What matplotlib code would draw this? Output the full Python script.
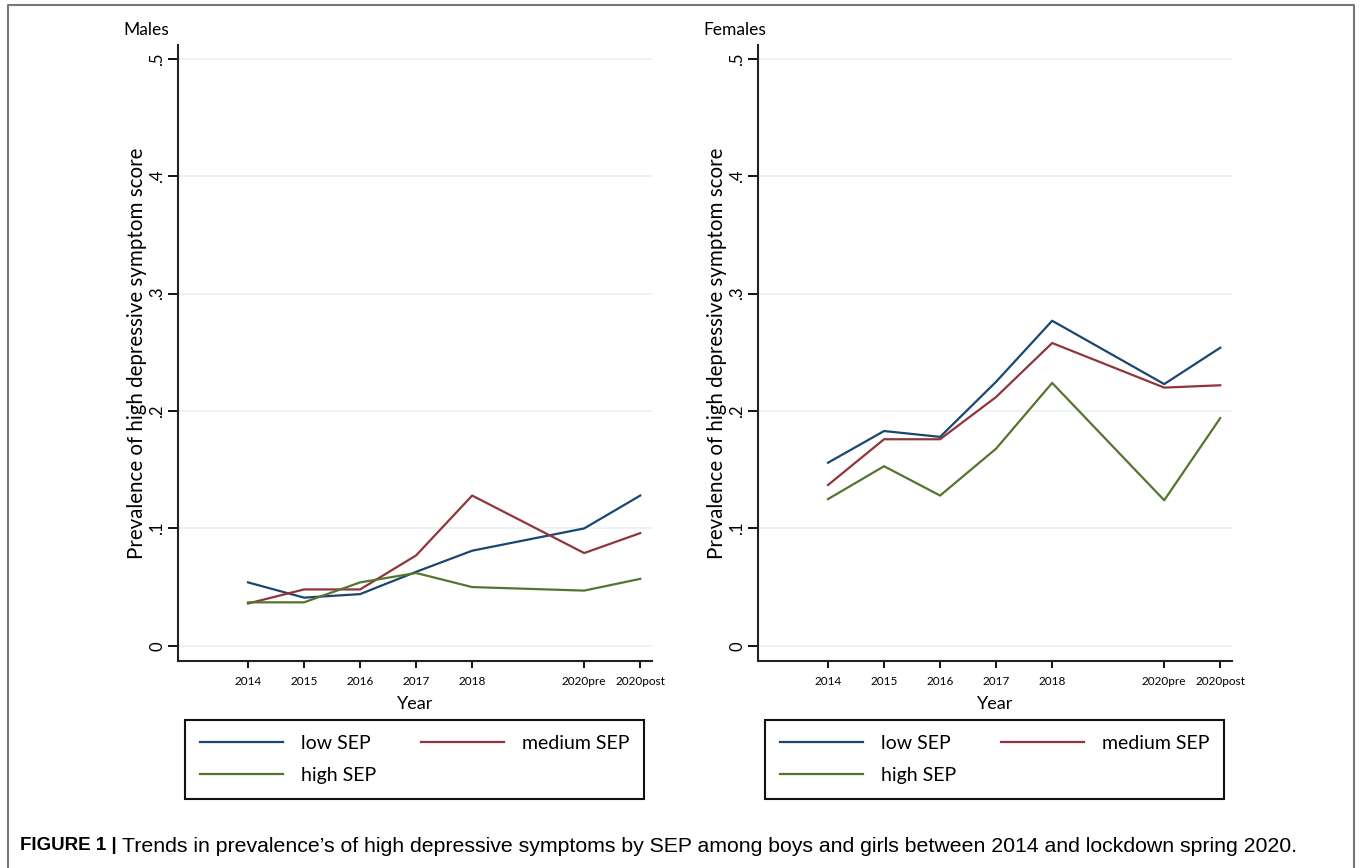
import numpy as np
import matplotlib
matplotlib.use('Agg')
import matplotlib.pyplot as plt
from matplotlib.lines import Line2D

# data
xpos = [2014, 2015, 2016, 2017, 2018, 2020, 2021]
xlabels = ['2014', '2015', '2016', '2017', '2018', '2020pre', '2020post']
yticks = [0, 0.1, 0.2, 0.3, 0.4, 0.5]
ylabels = ['0', '.1', '.2', '.3', '.4', '.5']

males_low = [0.054, 0.041, 0.044, 0.063, 0.081, 0.100, 0.128]
males_med = [0.036, 0.048, 0.048, 0.077, 0.128, 0.079, 0.096]
males_high = [0.037, 0.037, 0.054, 0.062, 0.050, 0.047, 0.057]

females_low = [0.156, 0.183, 0.178, 0.225, 0.277, 0.223, 0.254]
females_med = [0.137, 0.176, 0.176, 0.212, 0.258, 0.220, 0.222]
females_high = [0.125, 0.153, 0.128, 0.168, 0.224, 0.124, 0.194]

series_names = ['low SEP', 'medium SEP', 'high SEP']
colors = ['#1a476f', '#90353b', '#55752f']

font = ['Lato', 'DejaVu Sans']
plt.rcParams['font.family'] = font

W, H = 1362, 868
fig = plt.figure(figsize=(W / 100, H / 100), dpi=100)

def px_axes(x0, x1, y0, y1):
    return fig.add_axes([x0 / W, 1 - y1 / H, (x1 - x0) / W, (y1 - y0) / H])

panels = [
    ('Males', 178, 123, [males_low, males_med, males_high]),
    ('Females', 758, 703, [females_low, females_med, females_high]),
]

for title, x0, tx, data in panels:
    ax = px_axes(x0, x0 + 474, 45, 661)
    lines = []
    for vals, name, c in zip(data, series_names, colors):
        ln, = ax.plot(xpos, vals, color=c, lw=1.6, label=name)
        lines.append(ln)
    ax.set_xlim(2012.75, 2021.21)
    ax.set_ylim(-0.013, 0.512)
    ax.set_yticks(yticks)
    ax.set_yticklabels(ylabels, rotation=90, va='center', fontsize=12)
    ax.set_xticks(xpos)
    ax.set_xticklabels(xlabels, fontsize=8.5)
    ax.grid(axis='y', color='#eaf2f3', lw=1.3)
    ax.set_axisbelow(True)
    for s in ['top', 'right']:
        ax.spines[s].set_visible(False)
    for s in ['left', 'bottom']:
        ax.spines[s].set_linewidth(1.5)
        ax.spines[s].set_color('#222222')
    ax.tick_params(axis='y', length=7, width=1.3, pad=2)
    ax.tick_params(axis='x', length=5, width=1.3, pad=6)
    ax.set_ylabel('Prevalence of high depressive symptom score', fontsize=14.8, labelpad=2)
    ax.set_xlabel('Year', fontsize=13, labelpad=6)
    fig.text(tx / W, 1 - 30 / H, title, fontsize=12.5, va='center', ha='left')
    # row-wise order: low, medium / high
    order = [0, 2, 1]
    leg = ax.legend([lines[i] for i in order], [series_names[i] for i in order],
                    loc='upper left', bbox_to_anchor=(0.0148, -0.2208, 0.968, 0.125),
                    mode='expand', ncol=2, fontsize=14, handlelength=4.3,
                    handletextpad=0.9, frameon=True, fancybox=False, framealpha=1,
                    borderaxespad=0, borderpad=0.75, labelspacing=0.8)
    leg.get_frame().set_edgecolor('#111111')
    leg.get_frame().set_linewidth(1.5)

# outer frame (top, left, right)
fx = [8 / W, 8 / W, 1354 / W, 1354 / W]
fy = [0, 1 - 5 / H, 1 - 5 / H, 0]
fig.add_artist(Line2D(fx, fy, color='#777777', lw=1.5, transform=fig.transFigure))

cap_font = ['Liberation Sans', 'DejaVu Sans']
fig.text(20 / W, 1 - 846 / H, 'FIGURE 1 |', fontsize=13.5, fontweight='bold',
         family=cap_font, va='center', ha='left')
fig.text(122 / W, 1 - 846 / H,
         'Trends in prevalence\u2019s of high depressive symptoms by SEP among boys and girls between 2014 and lockdown spring 2020.',
         fontsize=15.3, family=cap_font, va='center', ha='left')

fig.savefig('out.png', dpi=100)
